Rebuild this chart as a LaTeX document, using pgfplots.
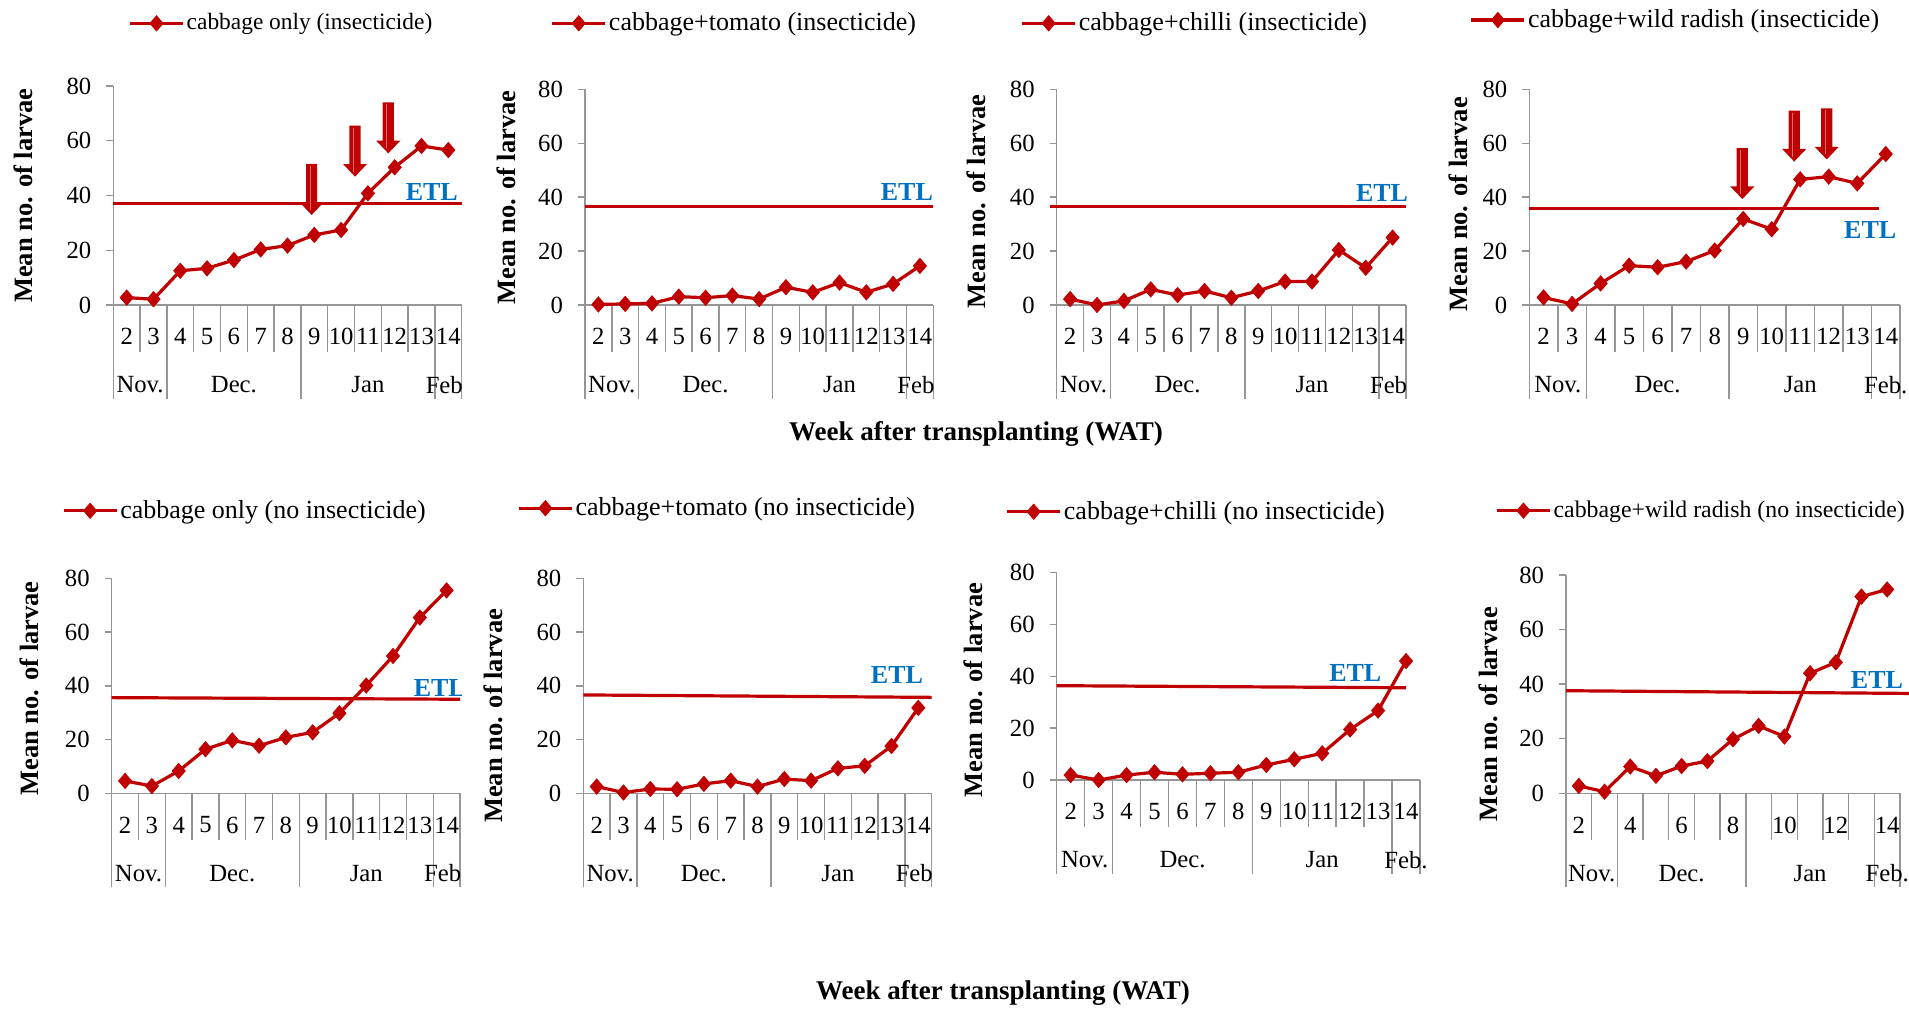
\documentclass[border=0pt]{standalone}
\usepackage{pgfplots}
\pgfplotsset{compat=1.18}
\usepackage{fontspec}
\setmainfont{Liberation Serif}
\definecolor{dred}{RGB}{192,0,0}
\definecolor{arrowhi}{RGB}{225,110,110}
\definecolor{etlblue}{RGB}{0,112,192}
\definecolor{axgray}{RGB}{150,150,150}
\newcommand{\tickfont}{\fontsize{12.35}{14}\selectfont}
\newcommand{\legfont}{\fontsize{11.7}{14}\selectfont}
\newcommand{\legfontL}{\fontsize{13}{15}\selectfont}
\newcommand{\legfontM}{\fontsize{11.9}{14}\selectfont}
\newcommand{\labfont}{\fontsize{13.25}{15}\selectfont\bfseries}
\newcommand{\etlfont}{\fontsize{13}{15}\selectfont\bfseries}
\newcommand{\ttlfont}{\fontsize{13.5}{15}\selectfont\bfseries}
\newcommand{\months}[2]{%
  \node[font=\tickfont, yshift=-40pt] at (axis cs:1,0) {Nov.};
  \node[font=\tickfont, yshift=-40pt] at (axis cs:4.5,0) {Dec.};
  \node[font=\tickfont, yshift=-40pt] at (axis cs:9.5,0) {Jan};
  \node[font=\tickfont, yshift=-40pt] at (axis cs:#2,0) {#1};}
\newcommand{\darrow}[2]{%
  \fill[dred] (axis cs:#1,#2) -- ++(-6pt,6.3pt) -- ++(3.2pt,0) -- ++(0,19.2pt)
     -- ++(5.6pt,0) -- ++(0,-19.2pt) -- ++(3.2pt,0) -- cycle;
  \draw[arrowhi, line width=0.5pt] (axis cs:#1,#2) ++(-0.7pt,2.5pt) -- ++(0,22pt);}
\newcommand{\etl}[3]{\node[font=\etlfont, text=etlblue, anchor=#3, inner sep=0pt] at (axis cs:#1,#2) {ETL};}
\pgfplotsset{
  panel/.style={
    scale only axis, clip=false,
    xmin=0, xmax=13, ymin=0, ymax=80,
    axis lines=left,
    axis line style={-, draw=axgray, line width=0.7pt},
    tick style={draw=axgray, line width=0.7pt},
    tick align=outside,
    major tick length=3.5pt,
    minor tick length=23.3pt,
    ytick={0,20,40,60,80},
    xtick={0.5,1.5,...,12.5},
    xticklabels={2,3,4,5,6,7,8,9,10,11,12,13,14},
    major x tick style={draw=none},
    minor xtick={0,1,...,13},
    extra x ticks={0,2,7,12,13},
    extra x tick labels={},
    extra x tick style={major tick length=47pt, major x tick style={draw=axgray}},
    /pgf/number format/assume math mode=true,
    ticklabel style={font=\tickfont},
    yticklabel style={xshift=-4pt},
    xticklabel style={anchor=center, yshift=-12.35pt},
    ylabel={Mean no. of larvae},
    ylabel style={font=\labfont, anchor=center},
    legend style={draw=none, fill=none, font=\legfontL, anchor=west, inner sep=0pt, nodes={inner sep=1pt}},
    legend image code/.code={\draw[mark repeat=2, mark phase=2] plot coordinates {(0pt,0pt) (13.3pt,0pt) (26.6pt,0pt)};},
  },
  ser/.style={dred, line width=1.6pt, mark=diamond*, mark size=3.8pt, mark options={solid, fill=dred, draw=dred, line width=0.4pt, xscale=1.15}},
  etlline/.style={dred, line width=1.6pt, no marks, forget plot},
}
\begin{document}
\begin{tikzpicture}
\useasboundingbox (0,0) rectangle (954.5pt,504pt);
% ---------- Row 1 ----------
\begin{axis}[panel, at={(56.65pt,351.5pt)}, anchor=south west, width=174.2pt, height=109.5pt,
  legend style={at={(0.042,1.286)}, font=\legfont}, ylabel style={at={(axis description cs:-0.258,0.499)}}]
\addplot[etlline] coordinates {(0,37.1) (13,37.1)};
\addplot[ser] coordinates {(0.5,2.7) (1.5,2.1) (2.5,12.5) (3.5,13.4) (4.5,16.4) (5.5,20.3) (6.5,21.7) (7.5,25.6) (8.5,27.4) (9.5,40.8) (10.5,50.3) (11.5,58.1) (12.5,56.6)};
\addlegendentry{cabbage only (insecticide)}
\etl{12.87}{41.4}{east}
\darrow{7.40}{32.9}\darrow{9.02}{46.9}\darrow{10.26}{55.4}
\months{Feb}{12.35}
\end{axis}
\begin{axis}[panel, at={(292.5pt,351.5pt)}, anchor=south west, width=174.15pt, height=107.85pt,
  legend style={at={(-0.100,1.306)}}, ylabel style={at={(axis description cs:-0.225,0.498)}}]
\addplot[etlline] coordinates {(0,36.5) (13,36.5)};
\addplot[ser] coordinates {(0.5,0.2) (1.5,0.4) (2.5,0.6) (3.5,3.1) (4.5,2.7) (5.5,3.5) (6.5,2.2) (7.5,6.6) (8.5,4.7) (9.5,8.3) (10.5,4.7) (11.5,7.8) (12.5,14.5)};
\addlegendentry{cabbage+tomato (insecticide)}
\etl{13.0}{42.0}{east}
\months{Feb}{12.35}
\end{axis}
\begin{axis}[panel, at={(528.35pt,351.5pt)}, anchor=south west, width=174.65pt, height=107.85pt,
  legend style={at={(-0.105,1.306)}}, ylabel style={at={(axis description cs:-0.229,0.479)}}]
\addplot[etlline] coordinates {(-0.25,36.5) (13,36.5)};
\addplot[ser] coordinates {(0.5,2.2) (1.5,0.0) (2.5,1.5) (3.5,5.8) (4.5,3.7) (5.5,5.2) (6.5,2.7) (7.5,5.2) (8.5,8.7) (9.5,8.7) (10.5,20.4) (11.5,13.8) (12.5,25.0)};
\addlegendentry{cabbage+chilli (insecticide)}
\etl{13.09}{41.7}{east}
\months{Feb}{12.35}
\end{axis}
\begin{axis}[panel, at={(764.65pt,351.5pt)}, anchor=south west, width=185.35pt, height=107.85pt,
  legend style={at={(-0.162,1.321)}}, ylabel style={at={(axis description cs:-0.192,0.467)}}]
\addplot[etlline] coordinates {(0,35.9) (12.25,35.9)};
\addplot[ser] coordinates {(0.5,2.8) (1.5,0.4) (2.5,8.0) (3.5,14.6) (4.5,14.0) (5.5,16.1) (6.5,20.2) (7.5,31.9) (8.5,28.1) (9.5,46.6) (10.5,47.6) (11.5,45.1) (12.5,56.0)};
\addlegendentry{cabbage+wild radish (insecticide)}
\etl{12.88}{27.8}{east}
\darrow{7.47}{39.3}\darrow{9.29}{53.2}\darrow{10.43}{54.0}
\months{Feb.}{12.5}
\end{axis}
% ---------- Row 2 ----------
\begin{axis}[panel, at={(55.85pt,107.35pt)}, anchor=south west, width=174.15pt, height=107.5pt,
  legend style={at={(-0.144,1.314)}}, ylabel style={at={(axis description cs:-0.235,0.488)}}]
\addplot[etlline] coordinates {(0,35.6) (13,35.0)};
\addplot[ser] coordinates {(0.5,4.6) (1.5,2.7) (2.5,8.3) (3.5,16.4) (4.5,19.7) (5.5,17.7) (6.5,20.8) (7.5,22.7) (8.5,29.8) (9.5,40.1) (10.5,51.1) (11.5,65.4) (12.5,75.5)};
\addlegendentry{cabbage only (no insecticide)}
\begin{scope}
\clip (axis cs:0,0) rectangle (axis cs:13.06,80);
\etl{11.26}{39.1}{west}
\end{scope}
\months{Feb}{12.35}
\end{axis}
\begin{axis}[panel, at={(291.65pt,107.35pt)}, anchor=south west, width=174.2pt, height=107.5pt,
  legend style={at={(-0.191,1.326)}}, ylabel style={at={(axis description cs:-0.258,0.360)}}]
\addplot[etlline] coordinates {(0,36.6) (13,35.7)};
\addplot[ser] coordinates {(0.5,2.5) (1.5,0.3) (2.5,1.6) (3.5,1.5) (4.5,3.5) (5.5,4.7) (6.5,2.5) (7.5,5.3) (8.5,4.7) (9.5,9.3) (10.5,10.2) (11.5,17.6) (12.5,31.8)};
\addlegendentry{cabbage+tomato (no insecticide)}
\etl{12.69}{44.0}{east}
\months{Feb}{12.35}
\end{axis}
\begin{axis}[panel, at={(528.35pt,114pt)}, anchor=south west, width=181.65pt, height=103.65pt,
  legend style={at={(-0.142,1.294)}}, ylabel style={at={(axis description cs:-0.230,0.434)}}]
\addplot[etlline] coordinates {(0,36.4) (12.5,35.6)};
\addplot[ser] coordinates {(0.5,1.9) (1.5,0.0) (2.5,1.9) (3.5,3.0) (4.5,2.2) (5.5,2.6) (6.5,3.0) (7.5,5.8) (8.5,8.0) (9.5,10.3) (10.5,19.5) (11.5,26.8) (12.5,45.9)};
\addlegendentry{cabbage+chilli (no insecticide)}
\etl{11.63}{41.4}{east}
\months{Feb.}{12.5}
\end{axis}
\begin{axis}[panel, at={(783pt,107.35pt)}, anchor=south west, width=167pt, height=109.15pt,
  xticklabels={2,,4,,6,,8,,10,,12,,14},
  legend style={at={(-0.213,1.295)}, font=\legfontM}, ylabel style={at={(axis description cs:-0.233,0.362)}}]
\addplot[etlline] coordinates {(0,37.6) (13.36,36.6)};
\addplot[ser] coordinates {(0.5,2.7) (1.5,0.6) (2.5,9.8) (3.5,6.4) (4.5,10.0) (5.5,11.8) (6.5,19.8) (7.5,24.7) (8.5,20.8) (9.5,44.0) (10.5,48.0) (11.5,72.1) (12.5,74.7)};
\addlegendentry{cabbage+wild radish (no insecticide)}
\etl{13.13}{41.5}{east}
\months{Feb.}{12.5}
\end{axis}
\node[font=\ttlfont] at (488pt,287pt) {Week after transplanting (WAT)};
\node[font=\ttlfont] at (501.5pt,7.5pt) {Week after transplanting (WAT)};
\end{tikzpicture}
\end{document}
